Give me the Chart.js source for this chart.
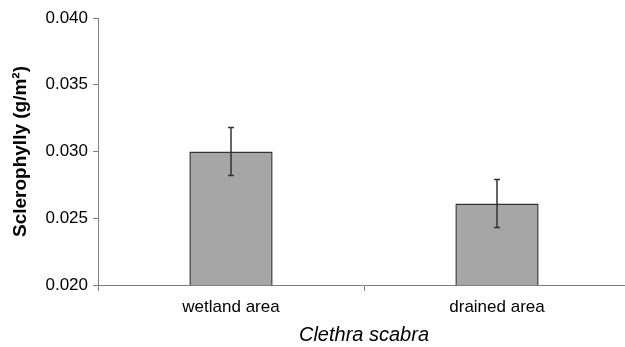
<!DOCTYPE html>
<html>
<head>
<meta charset="utf-8">
<script src="https://cdn.jsdelivr.net/npm/chart.js@4"></script>
<style>
  html, body { margin: 0; padding: 0; background: #fff; overflow: hidden; }
  #wrap { width: 630px; height: 347px; }
</style>
</head>
<body>
<div id="wrap"><canvas id="chart"></canvas></div>
<script>
// data
var categories = ["wetland area", "drained area"];
var means      = [0.0300, 0.0261];
var errors     = [0.0018, 0.0018];
var yMin = 0.020, yMax = 0.040, yStep = 0.005;

var axisGrey = "#7f7f7f";
var font = "'Liberation Sans', Arial, sans-serif";

// error bars drawn from the y scale
var errorBars = {
  id: "errorBars",
  afterDatasetsDraw: function (chart) {
    var ctx = chart.ctx;
    var y = chart.scales.y;
    var bars = chart.getDatasetMeta(0).data;
    ctx.save();
    ctx.strokeStyle = "#333";
    ctx.lineWidth = 1.5;
    for (var i = 0; i < bars.length; i++) {
      var x = bars[i].x;
      var top = y.getPixelForValue(means[i] + errors[i]);
      var bot = y.getPixelForValue(means[i] - errors[i]);
      ctx.beginPath();
      ctx.moveTo(x, top); ctx.lineTo(x, bot);
      ctx.moveTo(x - 3, top); ctx.lineTo(x + 3, top);
      ctx.moveTo(x - 3, bot); ctx.lineTo(x + 3, bot);
      ctx.stroke();
    }
    ctx.restore();
  }
};

new Chart(document.getElementById("chart"), {
  type: "bar",
  data: {
    labels: categories,
    datasets: [{
      data: means,
      backgroundColor: "#a6a6a6",
      borderColor: "#333333",
      borderWidth: 1.5,
      borderSkipped: false,
      categoryPercentage: 1,
      barPercentage: 0.313
    }]
  },
  options: {
    responsive: true,
    maintainAspectRatio: false,
    animation: false,
    layout: { padding: { left: 0, right: 0, top: 18, bottom: 0 } },
    plugins: { legend: { display: false }, tooltip: { enabled: false } },
    scales: {
      x: {
        border: { color: axisGrey, width: 1 },
        grid: { drawOnChartArea: false, color: axisGrey, tickLength: 6, offset: true },
        ticks: { color: "#000", font: { family: font, size: 17 }, padding: 6, maxRotation: 0 },
        title: {
          display: true, text: "Clethra scabra", color: "#000",
          font: { family: font, size: 20, style: "italic" },
          padding: { top: 0, bottom: 0 }
        },
        afterFit: function (s) { s.height = 62; }
      },
      y: {
        min: yMin, max: yMax,
        border: { color: axisGrey, width: 1 },
        grid: { drawOnChartArea: false, color: axisGrey, tickLength: 5 },
        ticks: {
          stepSize: yStep, color: "#000", padding: 5,
          font: { family: font, size: 17 },
          callback: function (v) { return v.toFixed(3); }
        },
        title: {
          display: true, text: "Sclerophylly (g/m\u00b2)", color: "#000",
          font: { family: font, size: 19, weight: "bold" },
          padding: { top: 9, bottom: 0 }
        },
        afterFit: function (s) { s.width = 98; }
      }
    }
  },
  plugins: [errorBars]
});
</script>
</body>
</html>
